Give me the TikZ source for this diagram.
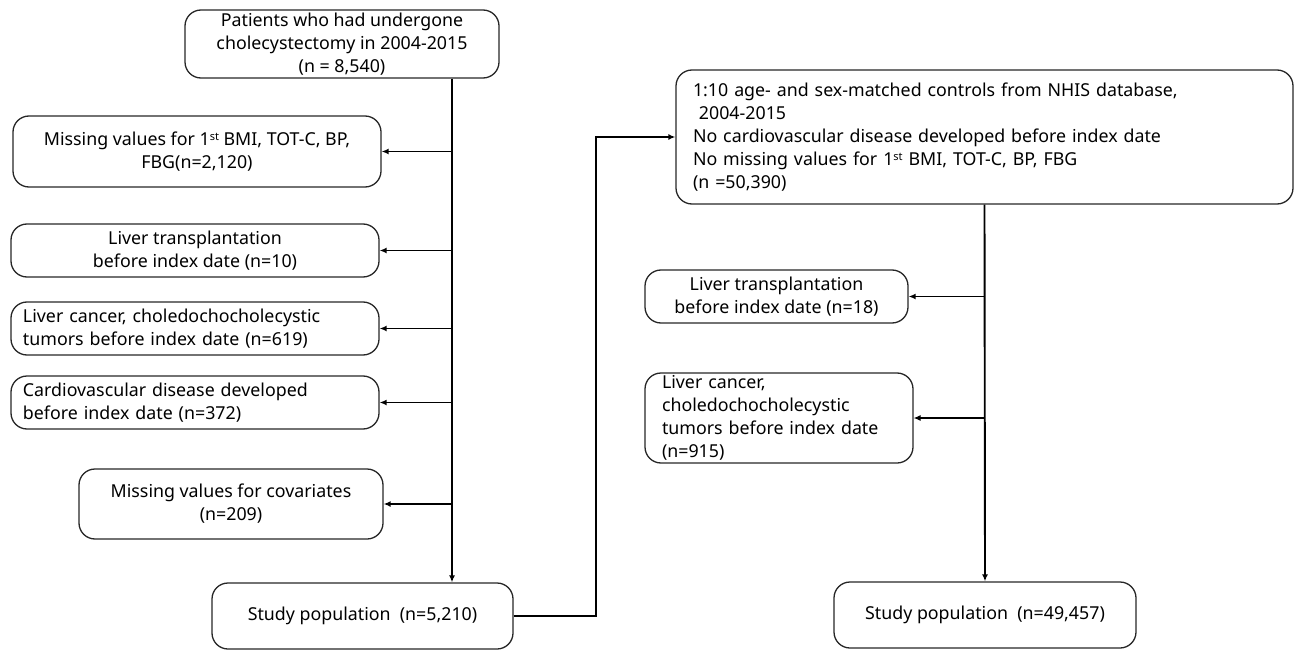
\documentclass[tikz,border=0pt]{standalone}
\usepackage{fontspec}
\setmainfont{Noto Sans}
\usetikzlibrary{arrows.meta}
\newcommand{\supst}{\raisebox{0.55ex}{\fontsize{11}{11}\selectfont st}}
\begin{document}
\begin{tikzpicture}[x=1pt,y=-1pt,
  box/.style={rectangle, draw=black!85, line width=1.3pt, rounded corners=16pt, inner sep=0pt,
    font=\fontsize{17.8}{23}\selectfont},
  cbox/.style={box, align=center},
  lbox/.style={box, align=left},
  arr/.style={line width=1.9pt, -{Latex[length=7pt,width=6pt]}}]
\useasboundingbox (0,0) rectangle (1296,650);
% left column
\node[cbox, minimum width=314pt, minimum height=68pt] (top) at (342,44)
  {Patients who had undergone\\cholecystectomy in 2004-2015\\(n = 8,540)};
\node[cbox, minimum width=368pt, minimum height=71pt] (l1) at (197,151.5)
  {Missing values for 1\supst{} BMI, TOT-C, BP,\\FBG(n=2,120)};
\node[cbox, minimum width=368pt, minimum height=53pt] (l2) at (195,250.5)
  {Liver transplantation\\before index date (n=10)};
\node[lbox, minimum width=368pt, minimum height=53pt, text width=344pt] (l3) at (195,328.5)
  {Liver cancer, choledochocholecystic\\tumors before index date (n=619)};
\node[lbox, minimum width=368pt, minimum height=53pt, text width=344pt] (l4) at (195,402.5)
  {Cardiovascular disease developed\\before index date (n=372)};
\node[cbox, minimum width=304pt, minimum height=70pt] (l5) at (231,504)
  {Missing values for covariates\\(n=209)};
\node[cbox, minimum width=301pt, minimum height=66pt] (sp1) at (362.5,616)
  {Study population~ (n=5,210)};
% right column
\node[lbox, minimum width=617pt, minimum height=134pt, text width=583pt] (rtop) at (984.5,137)
  {1:10 age- and sex-matched controls from NHIS database,\\
   \ 2004-2015\\
   No cardiovascular disease developed before index date\\
   No missing values for 1\supst{} BMI, TOT-C, BP, FBG\\
   (n =50,390)};
\node[cbox, minimum width=263pt, minimum height=53pt] (r1) at (776.5,296.5)
  {Liver transplantation\\before index date (n=18)};
\node[lbox, minimum width=268pt, minimum height=90pt, text width=234pt] (r2) at (779,418)
  {Liver cancer,\\choledochocholecystic\\tumors before index date\\(n=915)};
\node[cbox, minimum width=302pt, minimum height=66pt] (sp2) at (985,615)
  {Study population~ (n=49,457)};
% connectors
\coordinate (spine) at (452,0);
\coordinate (bend) at (596,0);
\draw[arr] (top.south -| spine) -- (sp1.north -| spine);
\foreach \n in {l1,l2,l3,l4,l5}
  \draw[arr] (spine |- \n.east) -- (\n.east);
\draw[arr] (sp1.east) -- (bend |- sp1.east) -- (bend |- rtop.west) -- (rtop.west);
\draw[arr] (rtop.south) -- (sp2.north);
\draw[arr] (rtop.south |- r1.east) -- (r1.east);
\draw[arr, line width=1.1pt] (rtop.south |- r2.east) -- (r2.east);
\end{tikzpicture}
\end{document}
